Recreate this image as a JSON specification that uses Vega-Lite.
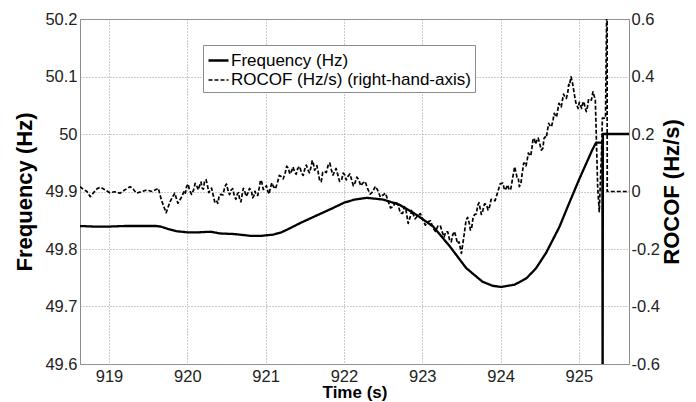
{
  "$schema": "https://vega.github.io/schema/vega-lite/v6.json",
  "width": 549,
  "height": 345,
  "autosize": {"type": "none"},
  "padding": {"left": 80, "top": 19, "right": 67, "bottom": 38},
  "background": "white",
  "config": {
    "font": "Liberation Sans",
    "view": {"stroke": "#8c8c8c", "strokeWidth": 1},
    "axis": {
      "labelFont": "Liberation Sans",
      "labelFontSize": 16.5,
      "labelColor": "#222222",
      "titleFont": "Liberation Sans",
      "titleFontWeight": "bold",
      "titleColor": "#000000",
      "ticks": false,
      "domain": false,
      "labelFlush": false,
      "labelOverlap": false,
      "gridColor": "#9a9a9a",
      "gridDash": [1, 2],
      "gridWidth": 1
    }
  },
  "datasets": {
    "freq": [
      {"t": 918.63, "v": 49.840}, {"t": 918.80, "v": 49.839}, {"t": 919.00, "v": 49.839}, {"t": 919.20, "v": 49.840},
      {"t": 919.40, "v": 49.840}, {"t": 919.60, "v": 49.840}, {"t": 919.66, "v": 49.839}, {"t": 919.75, "v": 49.835},
      {"t": 919.86, "v": 49.831}, {"t": 920.00, "v": 49.829}, {"t": 920.15, "v": 49.829}, {"t": 920.30, "v": 49.830},
      {"t": 920.42, "v": 49.827}, {"t": 920.60, "v": 49.826}, {"t": 920.80, "v": 49.823}, {"t": 920.95, "v": 49.823},
      {"t": 921.10, "v": 49.825}, {"t": 921.20, "v": 49.829}, {"t": 921.31, "v": 49.836}, {"t": 921.44, "v": 49.845},
      {"t": 921.63, "v": 49.857}, {"t": 921.84, "v": 49.870}, {"t": 922.01, "v": 49.881}, {"t": 922.14, "v": 49.886},
      {"t": 922.29, "v": 49.889}, {"t": 922.50, "v": 49.886}, {"t": 922.71, "v": 49.877}, {"t": 922.92, "v": 49.860},
      {"t": 923.14, "v": 49.839}, {"t": 923.35, "v": 49.805}, {"t": 923.56, "v": 49.767}, {"t": 923.77, "v": 49.743},
      {"t": 923.90, "v": 49.736}, {"t": 924.01, "v": 49.734}, {"t": 924.18, "v": 49.738}, {"t": 924.33, "v": 49.749},
      {"t": 924.45, "v": 49.766}, {"t": 924.58, "v": 49.793}, {"t": 924.75, "v": 49.838}, {"t": 924.88, "v": 49.881},
      {"t": 925.00, "v": 49.920}, {"t": 925.17, "v": 49.972}, {"t": 925.22, "v": 49.985}, {"t": 925.30, "v": 49.985},
      {"t": 925.303, "v": 49.50}, {"t": 925.307, "v": 50.0}, {"t": 925.64, "v": 50.0}
    ],
    "rocof": [
      {"t": 918.63, "v": 0.017}, {"t": 918.67, "v": 0.008}, {"t": 918.72, "v": 0.000}, {"t": 918.76, "v": -0.018},
      {"t": 918.80, "v": -0.005}, {"t": 918.85, "v": 0.010}, {"t": 918.89, "v": 0.015}, {"t": 918.95, "v": 0.006},
      {"t": 919.01, "v": -0.004}, {"t": 919.07, "v": -0.001}, {"t": 919.14, "v": -0.006}, {"t": 919.20, "v": 0.005},
      {"t": 919.27, "v": 0.017}, {"t": 919.31, "v": 0.008}, {"t": 919.35, "v": -0.006}, {"t": 919.42, "v": 0.000},
      {"t": 919.48, "v": 0.005}, {"t": 919.55, "v": 0.000}, {"t": 919.63, "v": 0.011}, {"t": 919.67, "v": -0.030},
      {"t": 919.73, "v": -0.074}, {"t": 919.78, "v": -0.035}, {"t": 919.81, "v": -0.020}, {"t": 919.84, "v": -0.006},
      {"t": 919.88, "v": -0.041}, {"t": 919.93, "v": -0.018}, {"t": 919.96, "v": 0.002}, {"t": 919.975, "v": -0.006},
      {"t": 919.99, "v": 0.017}, {"t": 920.01, "v": 0.026}, {"t": 920.03, "v": 0.004}, {"t": 920.055, "v": -0.010},
      {"t": 920.08, "v": 0.005}, {"t": 920.10, "v": 0.028}, {"t": 920.12, "v": 0.020}, {"t": 920.14, "v": 0.006},
      {"t": 920.16, "v": 0.023}, {"t": 920.175, "v": 0.033}, {"t": 920.19, "v": 0.012}, {"t": 920.205, "v": 0.008},
      {"t": 920.22, "v": 0.034}, {"t": 920.24, "v": 0.041}, {"t": 920.26, "v": 0.018}, {"t": 920.275, "v": -0.004},
      {"t": 920.29, "v": 0.005}, {"t": 920.31, "v": 0.012}, {"t": 920.33, "v": -0.012}, {"t": 920.35, "v": -0.036},
      {"t": 920.37, "v": -0.030}, {"t": 920.39, "v": -0.041}, {"t": 920.41, "v": -0.012}, {"t": 920.43, "v": -0.010},
      {"t": 920.455, "v": -0.012}, {"t": 920.48, "v": 0.017}, {"t": 920.50, "v": 0.026}, {"t": 920.52, "v": 0.004},
      {"t": 920.54, "v": -0.011}, {"t": 920.56, "v": 0.005}, {"t": 920.58, "v": 0.010}, {"t": 920.60, "v": -0.015},
      {"t": 920.62, "v": -0.027}, {"t": 920.64, "v": -0.008}, {"t": 920.655, "v": -0.004}, {"t": 920.67, "v": -0.030},
      {"t": 920.685, "v": -0.036}, {"t": 920.70, "v": -0.012}, {"t": 920.715, "v": 0.011}, {"t": 920.73, "v": 0.005},
      {"t": 920.75, "v": -0.017}, {"t": 920.77, "v": -0.008}, {"t": 920.795, "v": 0.011}, {"t": 920.82, "v": 0.000},
      {"t": 920.835, "v": -0.022}, {"t": 920.85, "v": -0.015}, {"t": 920.865, "v": 0.001}, {"t": 920.88, "v": -0.012},
      {"t": 920.90, "v": -0.014}, {"t": 920.92, "v": 0.015}, {"t": 920.935, "v": 0.040}, {"t": 920.95, "v": 0.034},
      {"t": 920.97, "v": 0.007}, {"t": 920.99, "v": 0.010}, {"t": 921.01, "v": 0.020}, {"t": 921.03, "v": 0.000},
      {"t": 921.045, "v": -0.009}, {"t": 921.06, "v": 0.012}, {"t": 921.08, "v": 0.030}, {"t": 921.10, "v": 0.017},
      {"t": 921.125, "v": 0.009}, {"t": 921.15, "v": 0.030}, {"t": 921.175, "v": 0.056}, {"t": 921.20, "v": 0.052},
      {"t": 921.225, "v": 0.044}, {"t": 921.25, "v": 0.065}, {"t": 921.27, "v": 0.088}, {"t": 921.29, "v": 0.081},
      {"t": 921.31, "v": 0.061}, {"t": 921.33, "v": 0.070}, {"t": 921.35, "v": 0.085}, {"t": 921.37, "v": 0.069},
      {"t": 921.39, "v": 0.060}, {"t": 921.41, "v": 0.080}, {"t": 921.435, "v": 0.087}, {"t": 921.46, "v": 0.063},
      {"t": 921.48, "v": 0.056}, {"t": 921.50, "v": 0.078}, {"t": 921.52, "v": 0.092}, {"t": 921.54, "v": 0.075},
      {"t": 921.56, "v": 0.065}, {"t": 921.58, "v": 0.085}, {"t": 921.595, "v": 0.107}, {"t": 921.61, "v": 0.098},
      {"t": 921.625, "v": 0.074}, {"t": 921.64, "v": 0.080}, {"t": 921.655, "v": 0.090}, {"t": 921.67, "v": 0.069},
      {"t": 921.69, "v": 0.037}, {"t": 921.71, "v": 0.034}, {"t": 921.73, "v": 0.067}, {"t": 921.75, "v": 0.070},
      {"t": 921.775, "v": 0.066}, {"t": 921.80, "v": 0.092}, {"t": 921.82, "v": 0.099}, {"t": 921.84, "v": 0.075},
      {"t": 921.86, "v": 0.057}, {"t": 921.88, "v": 0.069}, {"t": 921.90, "v": 0.080}, {"t": 921.92, "v": 0.060},
      {"t": 921.945, "v": 0.035}, {"t": 921.97, "v": 0.040}, {"t": 921.99, "v": 0.064}, {"t": 922.01, "v": 0.058},
      {"t": 922.03, "v": 0.040}, {"t": 922.05, "v": 0.052}, {"t": 922.075, "v": 0.061}, {"t": 922.10, "v": 0.040},
      {"t": 922.12, "v": 0.020}, {"t": 922.14, "v": 0.029}, {"t": 922.165, "v": 0.050}, {"t": 922.19, "v": 0.040},
      {"t": 922.215, "v": 0.020}, {"t": 922.24, "v": 0.029}, {"t": 922.27, "v": 0.035}, {"t": 922.30, "v": 0.012},
      {"t": 922.335, "v": -0.009}, {"t": 922.37, "v": 0.000}, {"t": 922.40, "v": 0.018}, {"t": 922.43, "v": 0.005},
      {"t": 922.465, "v": -0.019}, {"t": 922.50, "v": -0.012}, {"t": 922.53, "v": -0.006}, {"t": 922.56, "v": -0.030},
      {"t": 922.595, "v": -0.057}, {"t": 922.63, "v": -0.053}, {"t": 922.66, "v": -0.034}, {"t": 922.69, "v": -0.045},
      {"t": 922.72, "v": -0.075}, {"t": 922.75, "v": -0.076}, {"t": 922.77, "v": -0.053}, {"t": 922.79, "v": -0.060},
      {"t": 922.82, "v": -0.111}, {"t": 922.85, "v": -0.085}, {"t": 922.865, "v": -0.066}, {"t": 922.88, "v": -0.076},
      {"t": 922.91, "v": -0.095}, {"t": 922.94, "v": -0.085}, {"t": 922.975, "v": -0.077}, {"t": 923.01, "v": -0.099},
      {"t": 923.04, "v": -0.117}, {"t": 923.07, "v": -0.105}, {"t": 923.105, "v": -0.102}, {"t": 923.14, "v": -0.128},
      {"t": 923.17, "v": -0.139}, {"t": 923.20, "v": -0.120}, {"t": 923.23, "v": -0.118}, {"t": 923.26, "v": -0.145},
      {"t": 923.28, "v": -0.158}, {"t": 923.30, "v": -0.140}, {"t": 923.325, "v": -0.140}, {"t": 923.35, "v": -0.169},
      {"t": 923.37, "v": -0.175}, {"t": 923.39, "v": -0.150}, {"t": 923.41, "v": -0.139}, {"t": 923.43, "v": -0.157},
      {"t": 923.45, "v": -0.181}, {"t": 923.47, "v": -0.175}, {"t": 923.50, "v": -0.215}, {"t": 923.53, "v": -0.160},
      {"t": 923.56, "v": -0.099}, {"t": 923.58, "v": -0.090}, {"t": 923.60, "v": -0.110}, {"t": 923.615, "v": -0.134},
      {"t": 923.63, "v": -0.128}, {"t": 923.65, "v": -0.089}, {"t": 923.67, "v": -0.080}, {"t": 923.69, "v": -0.078},
      {"t": 923.71, "v": -0.047}, {"t": 923.725, "v": -0.039}, {"t": 923.74, "v": -0.060}, {"t": 923.755, "v": -0.080},
      {"t": 923.77, "v": -0.070}, {"t": 923.795, "v": -0.043}, {"t": 923.82, "v": -0.045}, {"t": 923.84, "v": -0.064},
      {"t": 923.86, "v": -0.053}, {"t": 923.88, "v": -0.027}, {"t": 923.90, "v": -0.030}, {"t": 923.93, "v": -0.032},
      {"t": 923.96, "v": -0.005}, {"t": 923.995, "v": 0.027}, {"t": 924.03, "v": 0.029}, {"t": 924.05, "v": 0.005},
      {"t": 924.07, "v": 0.010}, {"t": 924.09, "v": 0.023}, {"t": 924.11, "v": 0.005}, {"t": 924.13, "v": 0.008},
      {"t": 924.15, "v": 0.040}, {"t": 924.18, "v": 0.086}, {"t": 924.21, "v": 0.050}, {"t": 924.225, "v": 0.049},
      {"t": 924.24, "v": 0.017}, {"t": 924.26, "v": 0.029}, {"t": 924.28, "v": 0.070}, {"t": 924.295, "v": 0.099},
      {"t": 924.31, "v": 0.098}, {"t": 924.325, "v": 0.089}, {"t": 924.34, "v": 0.110}, {"t": 924.355, "v": 0.134},
      {"t": 924.37, "v": 0.127}, {"t": 924.385, "v": 0.124}, {"t": 924.40, "v": 0.150}, {"t": 924.415, "v": 0.183},
      {"t": 924.43, "v": 0.185}, {"t": 924.445, "v": 0.165}, {"t": 924.46, "v": 0.175}, {"t": 924.48, "v": 0.186},
      {"t": 924.50, "v": 0.167}, {"t": 924.52, "v": 0.144}, {"t": 924.54, "v": 0.150}, {"t": 924.555, "v": 0.185},
      {"t": 924.57, "v": 0.190}, {"t": 924.585, "v": 0.187}, {"t": 924.60, "v": 0.214}, {"t": 924.615, "v": 0.237},
      {"t": 924.63, "v": 0.230}, {"t": 924.65, "v": 0.225}, {"t": 924.67, "v": 0.249}, {"t": 924.685, "v": 0.272},
      {"t": 924.70, "v": 0.265}, {"t": 924.715, "v": 0.259}, {"t": 924.73, "v": 0.283}, {"t": 924.745, "v": 0.307},
      {"t": 924.76, "v": 0.300}, {"t": 924.775, "v": 0.294}, {"t": 924.79, "v": 0.318}, {"t": 924.805, "v": 0.339},
      {"t": 924.82, "v": 0.330}, {"t": 924.84, "v": 0.324}, {"t": 924.86, "v": 0.347}, {"t": 924.87, "v": 0.373},
      {"t": 924.88, "v": 0.370}, {"t": 924.90, "v": 0.399}, {"t": 924.92, "v": 0.375}, {"t": 924.94, "v": 0.342},
      {"t": 924.96, "v": 0.310}, {"t": 924.99, "v": 0.289}, {"t": 925.005, "v": 0.310}, {"t": 925.02, "v": 0.300},
      {"t": 925.035, "v": 0.289}, {"t": 925.05, "v": 0.307}, {"t": 925.065, "v": 0.313}, {"t": 925.08, "v": 0.290},
      {"t": 925.095, "v": 0.278}, {"t": 925.11, "v": 0.295}, {"t": 925.125, "v": 0.322}, {"t": 925.14, "v": 0.320},
      {"t": 925.16, "v": 0.318}, {"t": 925.18, "v": 0.347}, {"t": 925.21, "v": 0.318}, {"t": 925.24, "v": 0.017},
      {"t": 925.26, "v": -0.070}, {"t": 925.29, "v": 0.144}, {"t": 925.30, "v": 0.255}, {"t": 925.34, "v": 0.255},
      {"t": 925.36, "v": 0.75}, {"t": 925.362, "v": 0.0}, {"t": 925.64, "v": 0.0}
    ]
  },
  "layer": [
    {
      "data": {"name": "freq"},
      "mark": {"type": "line", "clip": true, "color": "#000000", "strokeJoin": "round"},
      "encoding": {
        "x": {
          "field": "t", "type": "quantitative",
          "scale": {"domain": [918.63, 925.64], "nice": false, "zero": false},
          "axis": {
            "title": "Time (s)", "titleFontSize": 17, "titlePadding": 0,
            "values": [919, 920, 921, 922, 923, 924, 925], "format": "d",
            "labelPadding": 4, "grid": true
          }
        },
        "y": {
          "field": "v", "type": "quantitative",
          "scale": {"domain": [49.6, 50.2], "nice": false, "zero": false},
          "axis": {
            "title": "Frequency (Hz)", "titleFontSize": 22, "titlePadding": 8,
            "values": [49.6, 49.7, 49.8, 49.9, 50, 50.1, 50.2], "format": ".3~r",
            "labelPadding": 3, "grid": true
          }
        },
        "strokeDash": {
          "datum": "Frequency (Hz)", "type": "nominal",
          "scale": {"domain": ["Frequency (Hz)", "ROCOF (Hz/s) (right-hand-axis)"], "range": [[1, 0], [4, 2]]},
          "legend": {
            "orient": "none", "legendX": 123, "legendY": 26, "title": null,
            "symbolType": "stroke", "symbolSize": 400, "symbolStrokeColor": "#000000",
            "labelFont": "Liberation Sans", "labelFontSize": 17, "labelColor": "#000000", "labelOffset": 1,
            "strokeColor": "#8c8c8c", "fillColor": "#ffffff", "padding": 4, "rowPadding": -1, "labelLimit": 400
          }
        },
        "strokeWidth": {
          "datum": "Frequency (Hz)", "type": "nominal",
          "scale": {"domain": ["Frequency (Hz)", "ROCOF (Hz/s) (right-hand-axis)"], "range": [2.3, 1.7]}
        }
      }
    },
    {
      "data": {"name": "rocof"},
      "mark": {"type": "line", "clip": true, "color": "#000000", "strokeJoin": "round"},
      "encoding": {
        "x": {"field": "t", "type": "quantitative"},
        "y": {
          "field": "v", "type": "quantitative",
          "scale": {"domain": [-0.6, 0.6], "nice": false, "zero": false},
          "axis": {
            "orient": "right",
            "title": "ROCOF (Hz/s)", "titleFontSize": 22, "titleAngle": 270, "titleBaseline": "top", "titlePadding": 2,
            "values": [-0.6, -0.4, -0.2, 0, 0.2, 0.4, 0.6],
            "labelExpr": "replace(format(datum.value, '.1~f'), '\u2212', '-')",
            "labelPadding": 2, "grid": false
          }
        },
        "strokeDash": {"datum": "ROCOF (Hz/s) (right-hand-axis)", "type": "nominal"},
        "strokeWidth": {"datum": "ROCOF (Hz/s) (right-hand-axis)", "type": "nominal"}
      }
    }
  ],
  "resolve": {"scale": {"y": "independent"}}
}
